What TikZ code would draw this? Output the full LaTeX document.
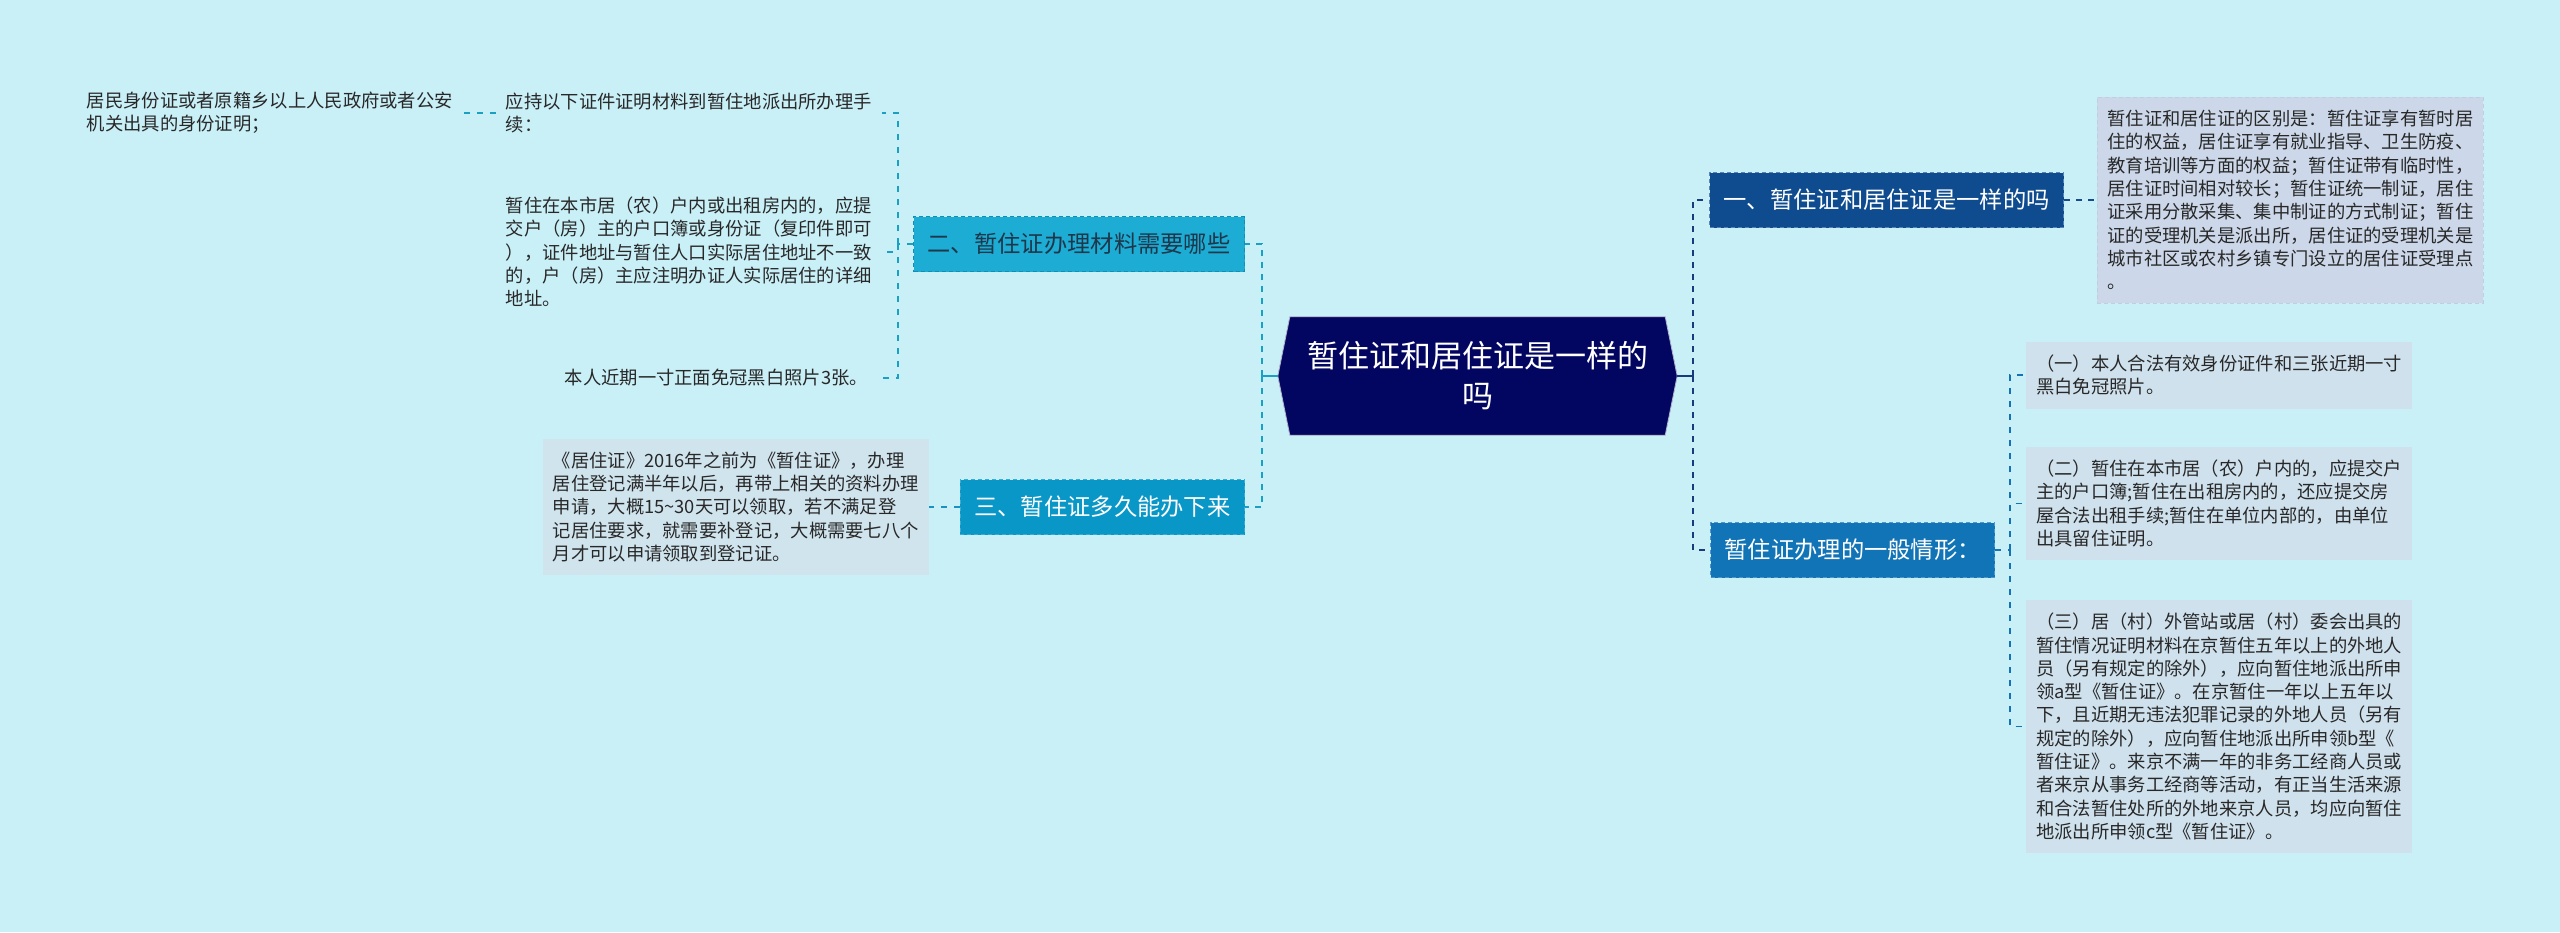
\documentclass[tikz,border=0pt]{standalone}
\usepackage{fontspec}
\setmainfont{Noto Sans CJK SC}
\usetikzlibrary{backgrounds}
\definecolor{bgc}{RGB}{201,239,247}
\definecolor{rootc}{RGB}{3,6,96}
\definecolor{bonec}{RGB}{15,76,143}
\definecolor{boned}{RGB}{90,130,180}
\definecolor{bfourc}{RGB}{17,116,182}
\definecolor{bfourd}{RGB}{80,150,200}
\definecolor{btwoc}{RGB}{28,172,212}
\definecolor{btwod}{RGB}{20,140,180}
\definecolor{btwot}{RGB}{30,55,75}
\definecolor{bthreec}{RGB}{9,151,200}
\definecolor{bthreed}{RGB}{60,170,210}
\definecolor{lonec}{RGB}{204,216,233}
\definecolor{loned}{RGB}{192,206,226}
\definecolor{lrc}{RGB}{207,225,237}
\definecolor{ltc}{RGB}{208,228,238}
\definecolor{leaft}{RGB}{40,40,40}
\definecolor{navyline}{RGB}{22,60,125}
\definecolor{oneline}{RGB}{25,75,140}
\definecolor{fourline}{RGB}{20,115,180}
\definecolor{tealline}{RGB}{25,160,195}
\definecolor{threeline}{RGB}{25,145,195}
\begin{document}
\begin{tikzpicture}[x=1pt,y=-1pt,
  rootnode/.style={minimum width=399pt, minimum height=118pt, inner sep=0pt, align=center, text=white, font=\fontsize{31}{40}\selectfont},
  branch/.style={minimum height=55pt, inner xsep=14pt, inner ysep=0pt, font=\fontsize{23.3}{28}\selectfont, draw, dash pattern=on 4pt off 3pt, line width=1pt},
  leaf/.style={font=\fontsize{18.3}{23.3}\selectfont, text=leaft, align=left, inner xsep=10pt, inner ysep=2pt},
  wleaf/.style={leaf, text width=366pt},
  busline/.style={line width=2.6pt, dash pattern=on 6pt off 6pt},
  subline/.style={line width=1.5pt, dash pattern=on 6pt off 7pt}
]
\begin{scope}[on background layer]
\fill[bgc] (0,0) rectangle (2560,932);
\end{scope}
\useasboundingbox (0,0) rectangle (2560,932);

% root
\node[rootnode] (root) at (1477.5,376) {暂住证和居住证是一样的\\吗};
\begin{scope}[on background layer]
\filldraw[fill=rootc, draw=white!70!rootc, line width=0.8pt] (root.west) -- ([xshift=12pt]root.north west) -- ([xshift=-12pt]root.north east) -- (root.east) -- ([xshift=-12pt]root.south east) -- ([xshift=12pt]root.south west) -- cycle;
\end{scope}

% branches
\node[branch, fill=bonec, draw=boned, text=white, anchor=west] (b1) at (1709,200) {一、暂住证和居住证是一样的吗};
\node[branch, fill=bfourc, draw=bfourd, text=white, anchor=west] (b4) at (1710,550) {暂住证办理的一般情形：};
\node[branch, fill=btwoc, draw=btwod, text=btwot, anchor=east] (b2) at (1245,244) {二、暂住证办理材料需要哪些};
\node[branch, fill=bthreec, draw=bthreed, text=white, anchor=east] (b3) at (1245,507) {三、暂住证多久能办下来};

% right leaves
\node[wleaf, fill=lonec, draw=loned, dash pattern=on 4pt off 3pt, line width=0.8pt, minimum height=206pt, anchor=west] (l1) at (2097,200) {暂住证和居住证的区别是：暂住证享有暂时居\\住的权益，居住证享有就业指导、卫生防疫、\\教育培训等方面的权益；暂住证带有临时性，\\居住证时间相对较长；暂住证统一制证，居住\\证采用分散采集、集中制证的方式制证；暂住\\证的受理机关是派出所，居住证的受理机关是\\城市社区或农村乡镇专门设立的居住证受理点\\。};
\node[wleaf, fill=lrc, minimum height=67pt, anchor=west] (r1) at (2026,375) {（一）本人合法有效身份证件和三张近期一寸\\黑白免冠照片。};
\node[wleaf, fill=lrc, minimum height=113pt, anchor=west] (r2) at (2026,503.5) {（二）暂住在本市居（农）户内的，应提交户\\主的户口簿;暂住在出租房内的，还应提交房\\屋合法出租手续;暂住在单位内部的，由单位\\出具留住证明。};
\node[wleaf, fill=lrc, minimum height=253pt, anchor=west] (r3) at (2026,726.5) {（三）居（村）外管站或居（村）委会出具的\\暂住情况证明材料在京暂住五年以上的外地人\\员（另有规定的除外），应向暂住地派出所申\\领a型《暂住证》。在京暂住一年以上五年以\\下，且近期无违法犯罪记录的外地人员（另有\\规定的除外），应向暂住地派出所申领b型《\\暂住证》。来京不满一年的非务工经商人员或\\者来京从事务工经商等活动，有正当生活来源\\和合法暂住处所的外地来京人员，均应向暂住\\地派出所申领c型《暂住证》。};

% left leaves
\node[wleaf, fill=ltc, minimum height=136pt, anchor=east] (lt) at (929,507) {《居住证》2016年之前为《暂住证》，办理\\居住登记满半年以后，再带上相关的资料办理\\申请，大概15\textasciitilde30天可以领取，若不满足登\\记居住要求，就需要补登记，大概需要七八个\\月才可以申请领取到登记证。};
\node[wleaf, anchor=east] (la) at (882,113) {应持以下证件证明材料到暂住地派出所办理手\\续：};
\node[wleaf, anchor=east] (lb) at (882,252) {暂住在本市居（农）户内或出租房内的，应提\\交户（房）主的户口簿或身份证（复印件即可\\），证件地址与暂住人口实际居住地址不一致\\的，户（房）主应注明办证人实际居住的详细\\地址。};
\node[leaf, anchor=east] (lc) at (878,378) {本人近期一寸正面免冠黑白照片3张。};
\node[wleaf, anchor=east] (laa) at (463,113) {居民身份证或者原籍乡以上人民政府或者公安\\机关出具的身份证明；};

% bus coordinates
\coordinate (rbus) at (1693,376);
\coordinate (lbus) at (1262,376);
\coordinate (b4bus) at (2010,550);
\coordinate (b2bus) at (898,244);

% right connectors
\draw[navyline, line width=2.5pt] (root.east) -- (rbus);
\draw[navyline, line width=2pt] ([yshift=-6pt]rbus) -- ([yshift=6pt]rbus);
\draw[navyline, busline] (rbus) |- (b1.west);
\draw[navyline, busline] (rbus) |- (b4.west);
\draw[oneline, busline] (b1.east) -- (l1.west);
\draw[fourline, subline] (b4.east) -- (b4bus);
\draw[fourline, subline] (b4bus) |- (r1.west);
\draw[fourline, subline] (b4bus) |- (r2.west);
\draw[fourline, subline] (b4bus) |- (r3.west);

% left connectors
\draw[tealline, line width=2.5pt] (root.west) -- (lbus);
\draw[tealline, line width=2pt] ([yshift=-6pt]lbus) -- ([yshift=6pt]lbus);
\draw[tealline, busline] (lbus) |- (b2.east);
\draw[tealline, busline] (lbus) |- (b3.east);
\draw[threeline, subline] (b3.west) -- (lt.east);
\draw[tealline, subline] (b2.west) -- (b2bus);
\draw[tealline, subline] (b2bus) |- (la.east);
\draw[tealline, subline] (b2bus) |- (lb.east);
\draw[tealline, subline] (b2bus) |- (lc.east);
\draw[tealline, subline] (la.west) -- (laa.east);
\end{tikzpicture}
\end{document}
